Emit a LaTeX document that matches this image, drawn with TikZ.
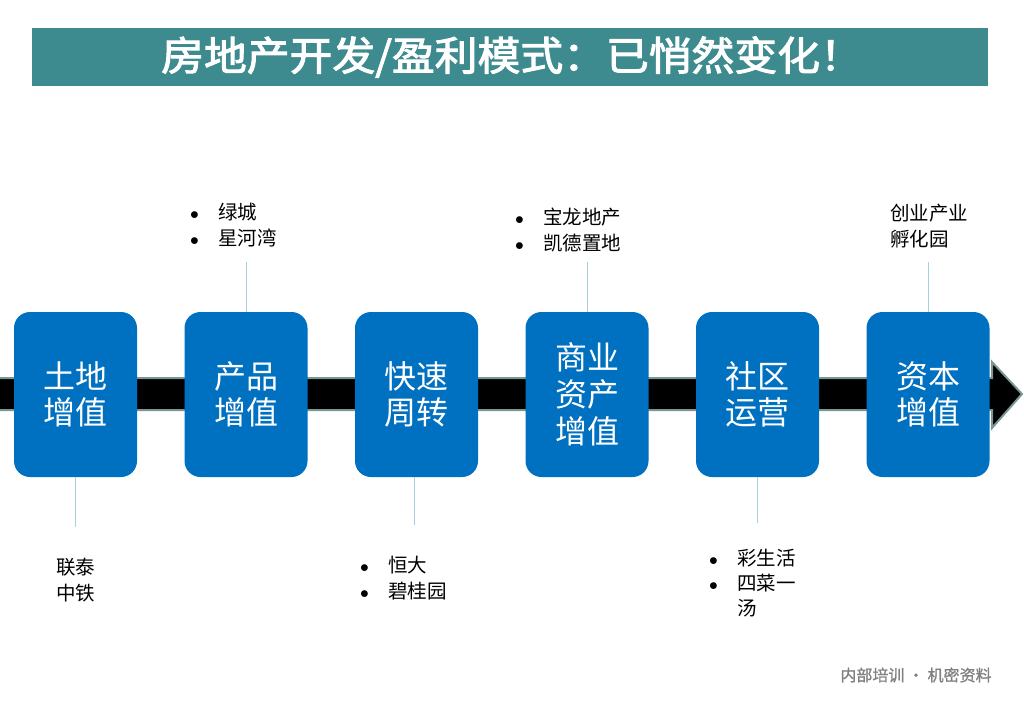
\documentclass[tikz,border=0pt]{standalone}
\usepackage{fontspec}
\setmainfont{Noto Sans CJK SC}
\newfontfamily\titlefont[FakeBold=2.5,FakeStretch=1.07]{Noto Sans CJK SC}
\newfontfamily\markfont[FakeBold=1]{Noto Sans CJK SC}
\definecolor{titleteal}{RGB}{61,139,143}
\definecolor{stepblue}{RGB}{0,112,192}
\definecolor{leadline}{RGB}{168,208,218}
\definecolor{bandedge}{RGB}{122,150,150}
\tikzset{
  stepbox/.style={rounded corners=16pt, fill=stepblue, text=white, minimum width=123pt,
    minimum height=165pt, align=center, font=\fontsize{32}{36}\selectfont, inner sep=0pt},
  lead/.style={draw=leadline, line width=1pt},
  anno/.style={anchor=west, align=left, inner sep=0pt, font=\fontsize{19.5}{26}\selectfont},
}
\newcommand{\bul}{\makebox[28pt][l]{\scalebox{0.85}{$\bullet$}}}
\begin{document}
\begin{tikzpicture}[x=1pt,y=-1pt]
    \useasboundingbox (0,0) rectangle (1024,709);
    \fill[titleteal] (32,28) rectangle (988,86);
    \node[text=white, font=\titlefont\fontsize{40}{44}\selectfont] (title) at (512,57) {房地产开发/盈利模式：已悄然变化！};
    \draw[fill=black, draw=bandedge, line width=2pt] (-3,378) -- (992,378) -- (992,362) -- (1022,394)
        -- (992,428) -- (992,410) -- (-3,410) -- cycle;
    \node[stepbox] (b1) at (75.5,394.5) {土地\\增值};
    \node[stepbox] (b2) at (246,394.5) {产品\\增值};
    \node[stepbox] (b3) at (416.5,394.5) {快速\\周转};
    \node[stepbox, font=\fontsize{32}{37}\selectfont] (b4) at (587,394.5) {商业\\资产\\增值};
    \node[stepbox] (b5) at (757.5,394.5) {社区\\运营};
    \node[stepbox] (b6) at (928,394.5) {资本\\增值};
    \coordinate (l1) at (75.5,527);
    \coordinate (l2) at (246,262);
    \coordinate (l3) at (414,525);
    \coordinate (l4) at (587,262);
    \coordinate (l5) at (757.5,523);
    \coordinate (l6) at (928,262);
    \draw[lead] (b1.south) -- (l1);
    \draw[lead] (b2.north) -- (l2);
    \draw[lead] (b3.south -| l3) -- (l3);
    \draw[lead] (b4.north) -- (l4);
    \draw[lead] (b5.south) -- (l5);
    \draw[lead] (b6.north) -- (l6);
    \node[anno] (a2) at (190,225) {\bul 绿城\\\bul 星河湾};
    \node[anno] (a4) at (515,230) {\bul 宝龙地产\\\bul 凯德置地};
    \node[anno] (a6) at (890,226.5) {创业产业\\孵化园};
    \node[anno] (a1) at (56,580) {联泰\\中铁};
    \node[anno] (a3) at (360,578) {\bul 恒大\\\bul 碧桂园};
    \node[anno, font=\fontsize{19.5}{25}\selectfont] (a5) at (709,583) {\bul 彩生活\\\bul 四菜一\\\hspace*{28pt}汤};
    \node[text=black!50, font=\markfont\fontsize{16}{18}\selectfont] (mark) at (916,675) {内部培训 · 机密资料};
\end{tikzpicture}
\end{document}
